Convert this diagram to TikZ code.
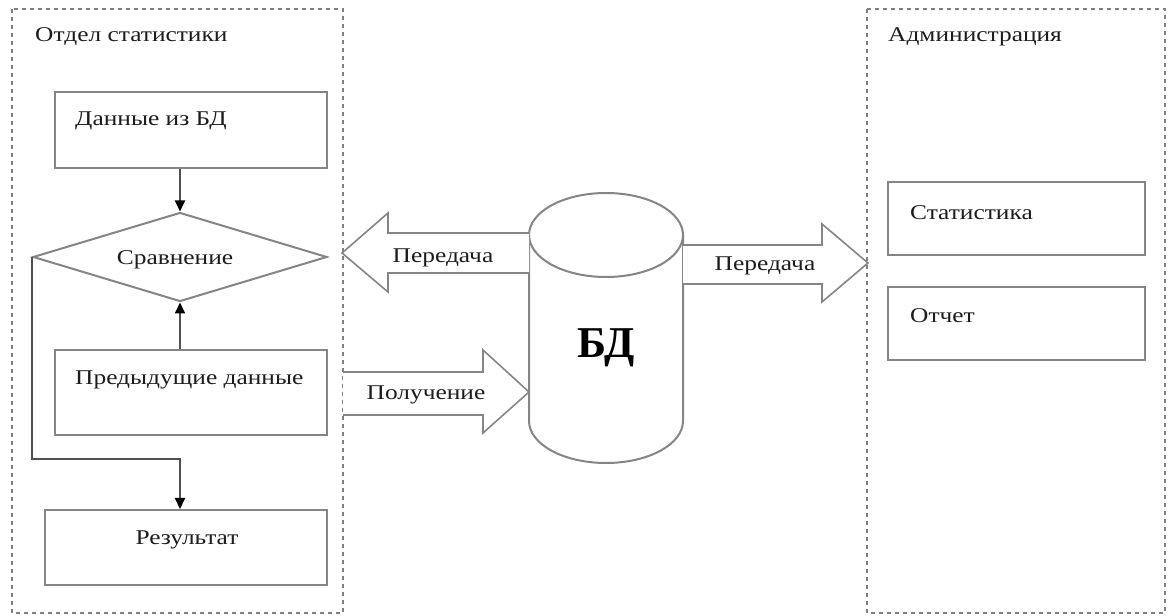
\documentclass[tikz,border=0pt]{standalone}
\usepackage{fontspec}
\setmainfont{Liberation Serif}
\newfontfamily\lblfont{Liberation Serif}[FakeStretch=1.21]
\usetikzlibrary{arrows.meta,shapes.geometric,calc}

\definecolor{framegray}{HTML}{808080}
\definecolor{linegray}{HTML}{858585}
\definecolor{conngray}{HTML}{505050}
\definecolor{txt}{HTML}{1c1c1c}

\tikzset{
  frame/.style={draw=framegray, line width=2pt, dash pattern=on 4pt off 4pt},
  box/.style={draw=linegray, line width=2pt, fill=white, inner sep=0pt},
  lbl/.style={font=\lblfont\fontsize{21}{24}\selectfont, text=txt, inner sep=0pt, yshift=-3pt},
  conn/.style={draw=conngray, line width=2pt, -{Triangle[length=11pt,width=10pt,color=black]}},
  blockarrow/.style={draw=linegray, line width=1.6pt, fill=white, line join=miter},
}

\begin{document}
\begin{tikzpicture}[x=1pt,y=1pt]
  \useasboundingbox (0,0) rectangle (1168,616);

  % group frames
  \draw[frame] (12,607) rectangle (343,3);
  \draw[frame] (867,607) rectangle (1165,3);
  \node[lbl, anchor=west] (t1) at (35,582) {Отдел статистики};
  \node[lbl, anchor=west] (t2) at (888,582) {Администрация};

  % left flowchart
  \node[box, minimum width=272, minimum height=76] (d1) at (191,486) {};
  \node[lbl, anchor=west] (d1t) at (75,498) {Данные из БД};

  \node[box, diamond, aspect=3.3, minimum width=294, minimum height=89] (cmp) at (180,359) {};
  \node[lbl] (cmpt) at (175,359) {Сравнение};

  \node[box, minimum width=272, minimum height=85] (prev) at (191,223.5) {};
  \node[lbl, anchor=west] (prevt) at (75,239) {Предыдущие данные};

  \node[box, minimum width=282, minimum height=75] (res) at (186,68.5) {};
  \node[lbl] (rest) at (187,79) {Результат};

  \draw[conn] (d1.south -| cmp.north) -- (cmp.north);
  \draw[conn] (prev.north -| cmp.south) -- (cmp.south);
  \draw[conn] (cmp.west) |- ($(res.north -| cmp.south)+(0,50)$) -- (res.north -| cmp.south);

  % database cylinder
  \coordinate (db) at (606,288);
  \draw[linegray, line width=2pt, fill=white]
    (529,381) -- (529,195) arc[start angle=180, end angle=360, x radius=77, y radius=42]
    -- (683,381) arc[start angle=0, end angle=180, x radius=77, y radius=42] -- cycle;
  \draw[linegray, line width=2pt] (529,381) arc[start angle=180, end angle=360, x radius=77, y radius=42];
  \node[font=\fontsize{44}{48}\selectfont\bfseries, inner sep=0pt] (dbt) at (606,268) {БД};

  % block arrows
  \draw[blockarrow] (529,383) -- (388,383) -- (388,403) -- (342,363) -- (388,324) -- (388,343) -- (529,343);
  \node[lbl] (a1) at (443,361) {Передача};

  \draw[blockarrow] (683,371) -- (822,371) -- (822,392) -- (868,353) -- (822,314) -- (822,332) -- (683,332);
  \node[lbl] (a2) at (765,353) {Передача};

  \draw[blockarrow] (343,244) -- (483,244) -- (483,266) -- (529,224) -- (483,183) -- (483,201) -- (343,201);
  \node[lbl] (a3) at (426,224) {Получение};

  % administration boxes
  \node[box, minimum width=257, minimum height=73] (st) at (1016.5,397.5) {};
  \node[lbl, anchor=west] (stt) at (910,406) {Статистика};
  \node[box, minimum width=257, minimum height=73] (rep) at (1016.5,292.5) {};
  \node[lbl, anchor=west] (rept) at (910,303) {Отчет};
\end{tikzpicture}
\end{document}
